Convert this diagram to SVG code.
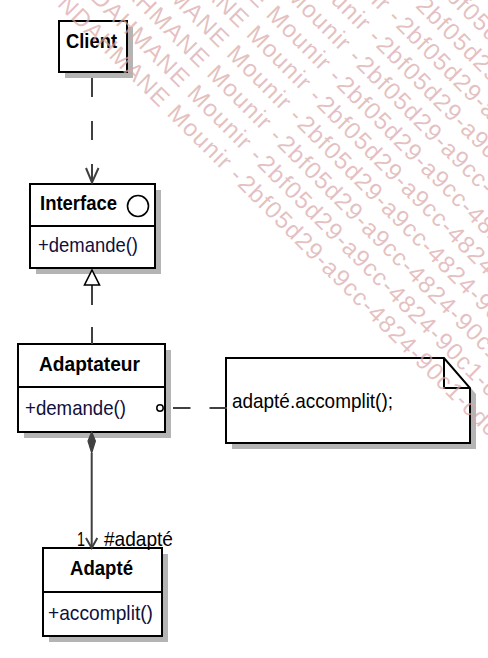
<svg xmlns="http://www.w3.org/2000/svg" width="488" height="658" viewBox="0 0 488 658">
<style>
.shadow{fill:#b4b4b4;stroke:none}
.box{fill:#ffffff;stroke:#000000;stroke-width:2}
.div{stroke:#000000;stroke-width:2}
.name{font-family:"Liberation Sans",Arial,sans-serif;font-weight:bold;font-size:21px;fill:#000000}
.op{font-family:"Liberation Sans",Arial,sans-serif;font-size:21px;fill:#10103c}
.lbl{font-family:"Liberation Sans",Arial,sans-serif;font-size:21px;fill:#000000}
.conn{fill:none;stroke:#404040;stroke-width:2}
.wm{font-family:"Liberation Sans",Arial,sans-serif;font-size:24px;letter-spacing:1.2px;fill:#d9a6a6;fill-opacity:0.7}
</style>
<rect width="488" height="658" fill="#ffffff"/>

<g id="client">
<rect class="shadow" x="65" y="27" width="68" height="51"/>
<rect class="box" x="59" y="21" width="68" height="51"/>
<text class="name" x="66" y="48" textLength="51" lengthAdjust="spacingAndGlyphs">Client</text>
</g>

<g id="interface">
<rect class="shadow" x="36" y="190" width="125" height="84"/>
<rect class="box" x="30" y="184" width="125" height="84"/>
<line class="div" x1="30" y1="226" x2="155" y2="226"/>
<text class="name" x="40" y="210" textLength="77" lengthAdjust="spacingAndGlyphs">Interface</text>
<circle cx="138" cy="206" r="10.5" fill="none" stroke="#000000" stroke-width="1.6"/>
<text class="op" x="38" y="252" textLength="100" lengthAdjust="spacingAndGlyphs">+demande()</text>
</g>

<g id="adaptateur">
<rect class="shadow" x="24" y="350" width="147" height="88"/>
<rect class="box" x="18" y="344" width="147" height="88"/>
<line class="div" x1="18" y1="387" x2="165" y2="387"/>
<text class="name" x="39" y="371" textLength="101" lengthAdjust="spacingAndGlyphs">Adaptateur</text>
<text class="op" x="25" y="415" textLength="101" lengthAdjust="spacingAndGlyphs">+demande()</text>
</g>

<g id="adapte">
<rect class="shadow" x="49" y="554" width="119" height="88"/>
<rect class="box" x="43" y="548" width="119" height="88"/>
<line class="div" x1="43" y1="592" x2="162" y2="592"/>
<text class="name" x="70" y="575" textLength="63" lengthAdjust="spacingAndGlyphs">Adapté</text>
<text class="op" x="48" y="620" textLength="105" lengthAdjust="spacingAndGlyphs">+accomplit()</text>
</g>

<g id="note">
<path class="shadow" d="M232 364 H450 L476 394 V449 H232 Z"/>
<path class="box" d="M226 358 H444 L470 388 V443 H226 Z"/>
<path d="M444 358 V388 H470" fill="none" stroke="#000000" stroke-width="2"/>
<text class="lbl" x="232" y="408" textLength="161" lengthAdjust="spacingAndGlyphs">adapté.accomplit();</text>
</g>

<g id="connectors">
<path class="conn" d="M92 78 V97 M92 121 V140 M92 164 V182"/>
<path class="conn" d="M86 168 L92 182.5 L98.5 168"/>
<path class="conn" d="M92 285 V305 M92 327 V344"/>
<path d="M92 270 L99.5 285 H84.5 Z" fill="#ffffff" stroke="#000000" stroke-width="1.6"/>
<path d="M91.7 432 L95.4 441 L91.7 453 L88 441 Z" fill="#404040" stroke="#404040" stroke-width="1.2"/>
<path class="conn" d="M91.7 453 V547"/>
<path class="conn" d="M86 538 L91.7 548 L97.3 538"/>
<text class="lbl" x="77" y="546" textLength="8" lengthAdjust="spacingAndGlyphs">1</text>
<text class="lbl" x="104" y="546" textLength="69" lengthAdjust="spacingAndGlyphs">#adapté</text>
<circle cx="160" cy="408" r="3.2" fill="#ffffff" stroke="#000000" stroke-width="1.5"/>
<path class="conn" d="M173 408 H190.5 M209.5 408 H227"/>
</g>

<g id="watermark" transform="rotate(45)">
<text class="wm" x="296" y="-36.5" text-anchor="end">NDAHMANE Mounir - </text><text class="wm" x="298" y="-36.5">2bf05d29-a9cc-4824-90c1-cdc</text>
<text class="wm" x="296" y="-64.5" text-anchor="end">NDAHMANE Mounir - </text><text class="wm" x="298" y="-64.5">2bf05d29-a9cc-4824-90c1-cdc</text>
<text class="wm" x="296" y="-92.5" text-anchor="end">NDAHMANE Mounir - </text><text class="wm" x="298" y="-92.5">2bf05d29-a9cc-4824-90c1-cdc</text>
<text class="wm" x="296" y="-120.5" text-anchor="end">NDAHMANE Mounir - </text><text class="wm" x="298" y="-120.5">2bf05d29-a9cc-4824-90c1-cdc</text>
<text class="wm" x="296" y="-148.5" text-anchor="end">NDAHMANE Mounir - </text><text class="wm" x="298" y="-148.5">2bf05d29-a9cc-4824-90c1-cdc</text>
<text class="wm" x="296" y="-176.5" text-anchor="end">NDAHMANE Mounir - </text><text class="wm" x="298" y="-176.5">2bf05d29-a9cc-4824-90c1-cdc</text>
<text class="wm" x="296" y="-204.5" text-anchor="end">NDAHMANE Mounir - </text><text class="wm" x="298" y="-204.5">2bf05d29-a9cc-4824-90c1-cdc</text>
<text class="wm" x="296" y="-232.5" text-anchor="end">NDAHMANE Mounir - </text><text class="wm" x="298" y="-232.5">2bf05d29-a9cc-4824-90c1-cdc</text>
<text class="wm" x="296" y="-260.5" text-anchor="end">NDAHMANE Mounir - </text><text class="wm" x="298" y="-260.5">2bf05d29-a9cc-4824-90c1-cdc</text>
<text class="wm" x="296" y="-288.5" text-anchor="end">NDAHMANE Mounir - </text><text class="wm" x="298" y="-288.5">2bf05d29-a9cc-4824-90c1-cdc</text>
<text class="wm" x="296" y="-316.5" text-anchor="end">NDAHMANE Mounir - </text><text class="wm" x="298" y="-316.5">2bf05d29-a9cc-4824-90c1-cdc</text>
<text class="wm" x="296" y="-344.5" text-anchor="end">NDAHMANE Mounir - </text><text class="wm" x="298" y="-344.5">2bf05d29-a9cc-4824-90c1-cdc</text>
</g>
</svg>
